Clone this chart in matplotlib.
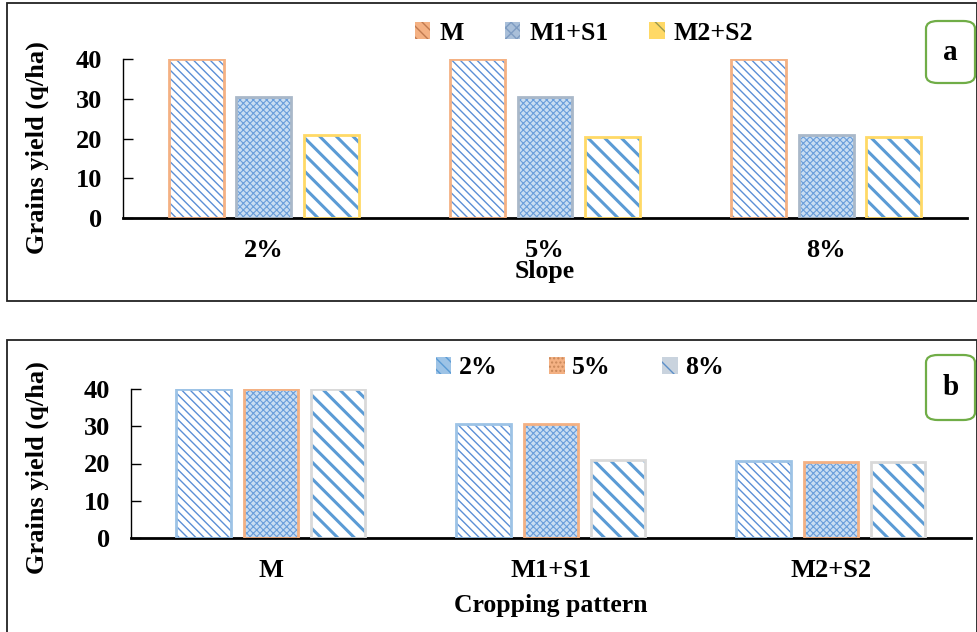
import matplotlib
matplotlib.use("Agg")
import matplotlib.pyplot as plt
import numpy as np
from matplotlib.patches import FancyBboxPatch, Rectangle, Patch

# ---- data ----
slopes = ['2%', '5%', '8%']
patterns = ['M', 'M1+S1', 'M2+S2']
yield_M = [40, 40, 40]          # by slope 2%,5%,8%
yield_M1S1 = [30.5, 30.5, 21]
yield_M2S2 = [20.8, 20.4, 20.4]
yticks = [0, 10, 20, 30, 40]

plt.rcParams['font.family'] = ['Liberation Serif', 'DejaVu Serif']
plt.rcParams['font.weight'] = 'bold'

W, H = 978, 632
fig = plt.figure(figsize=(W / 100, H / 100), dpi=100)


def fx(x):
    return x / W


def fy(y):
    return 1 - y / H


# styles
S_DENSE = dict(face='white', hatch='\\\\\\\\', hc='#5B8FD6', hlw=1.0)
S_CHECK = dict(face='#C9DDF2', hatch='xxxxx', hc='#6A9EDB', hlw=0.8)
S_WIDE = dict(face='white', hatch='\\\\', hc='#5B9BD5', hlw=2.2)


def draw_bars(ax, xs, hs, width, st, edge):
    with plt.rc_context({'hatch.linewidth': st['hlw']}):
        ax.bar(xs, hs, width, color=st['face'], edgecolor=st['hc'],
               hatch=st['hatch'], linewidth=0, zorder=2)
    ax.bar(xs, hs, width, fill=False, edgecolor=edge, linewidth=2.0, zorder=3)


def style_axes(ax):
    ax.set_ylim(0, 40)
    ax.set_yticks(yticks)
    ax.spines['top'].set_visible(False)
    ax.spines['right'].set_visible(False)
    ax.spines['left'].set_linewidth(1.0)
    ax.spines['bottom'].set_linewidth(2.0)
    ax.tick_params(axis='y', direction='in', length=7, width=1,
                   labelsize=19, pad=15)
    ax.tick_params(axis='x', length=0, labelsize=19, pad=15)
    for lab in ax.get_yticklabels() + ax.get_xticklabels():
        lab.set_fontweight('bold')


# outer frames
fig.patches.append(Rectangle((fx(7), fy(301)), fx(977) - fx(7), fy(3) - fy(301),
                             transform=fig.transFigure, fill=False,
                             edgecolor='#222222', linewidth=1.3))
fig.patches.append(Rectangle((fx(7), fy(640)), fx(977) - fx(7), fy(340) - fy(640),
                             transform=fig.transFigure, fill=False,
                             edgecolor='#222222', linewidth=1.3))

offs = [-0.24, 0, 0.24]
bw = 0.195

# ---- panel a ----
a1l, a1r = 123, 967
ax1 = fig.add_axes([fx(a1l), fy(218), fx(a1r) - fx(a1l), fy(59) - fy(218)])
x = np.arange(len(slopes))
draw_bars(ax1, x + offs[0], yield_M, bw, S_DENSE, '#F4B183')
draw_bars(ax1, x + offs[1], yield_M1S1, bw, S_CHECK, '#A9B8C9')
draw_bars(ax1, x + offs[2], yield_M2S2, bw, S_WIDE, '#FFD966')
ax1.set_xlim(-0.5, 2.5)
ax1.set_xticks(x)
ax1.set_xticklabels(slopes)
style_axes(ax1)
ax1.set_xlabel('Slope', fontsize=18.5, fontweight='bold', labelpad=-1)
ax1.set_ylabel('Grains yield (q/ha)', fontsize=19, fontweight='bold')
ax1.yaxis.set_label_coords((49 - a1l) / (a1r - a1l), 0.44)

h1 = [Patch(facecolor='#F4B183', edgecolor='#C07A50', hatch='\\\\\\'),
      Patch(facecolor='#A9BFD9', edgecolor='#7E9CC2', hatch='xxx'),
      Patch(facecolor='#FFD966', edgecolor='#9A9A50', hatch='\\')]
for p in h1:
    p.set_linewidth(0)
fig.legend(h1, patterns, loc='center', bbox_to_anchor=(fx(584), fy(33)),
           ncol=3, frameon=False, handlelength=0.6, handleheight=0.6,
           columnspacing=1.6, handletextpad=0.35, prop={'weight': 'bold', 'size': 18.5})

# ---- panel b ----
a2l, a2r = 131, 971
ax2 = fig.add_axes([fx(a2l), fy(538), fx(a2r) - fx(a2l), fy(389) - fy(538)])
by_slope = [[yield_M[i], yield_M1S1[i], yield_M2S2[i]] for i in range(len(slopes))]
xp = np.arange(len(patterns))
draw_bars(ax2, xp + offs[0], by_slope[0], bw, S_DENSE, '#9DC3E6')
draw_bars(ax2, xp + offs[1], by_slope[1], bw, S_CHECK, '#F4B183')
draw_bars(ax2, xp + offs[2], by_slope[2], bw, S_WIDE, '#D9D9D9')
ax2.set_xlim(-0.5, 2.5)
ax2.set_xticks(xp)
ax2.set_xticklabels(patterns)
style_axes(ax2)
ax2.tick_params(axis='x', pad=15)
ax2.set_xlabel('Cropping pattern', fontsize=18.5, fontweight='bold', labelpad=9)
ax2.set_ylabel('Grains yield (q/ha)', fontsize=19, fontweight='bold')
ax2.yaxis.set_label_coords((49 - a2l) / (a2r - a2l), 0.47)

h2 = [Patch(facecolor='#9DC3E6', edgecolor='#5B9BD5', hatch='\\\\\\'),
      Patch(facecolor='#F4B183', edgecolor='#C9885A', hatch='....'),
      Patch(facecolor='#C9D3DE', edgecolor='#5B8FC8', hatch='\\')]
for p in h2:
    p.set_linewidth(0)
fig.legend(h2, slopes, loc='center', bbox_to_anchor=(fx(580), fy(368)),
           ncol=3, frameon=False, handlelength=0.6, handleheight=0.6,
           columnspacing=2.0, handletextpad=0.3, prop={'weight': 'bold', 'size': 18.5})

# label boxes
for (x0, y0, x1, y1, t) in [(926, 21, 975, 83, 'a'), (926, 355, 975, 420, 'b')]:
    fig.patches.append(FancyBboxPatch((fx(x0), fy(y1)), fx(x1) - fx(x0), fy(y0) - fy(y1),
                                      boxstyle='round,pad=0,rounding_size=0.012',
                                      transform=fig.transFigure, fill=False,
                                      edgecolor='#70AD47', linewidth=1.6))
    fig.text(fx((x0 + x1) / 2), fy((y0 + y1) / 2), t, ha='center', va='center',
             fontsize=21, fontweight='bold')

fig.savefig('out.png', dpi=100)
